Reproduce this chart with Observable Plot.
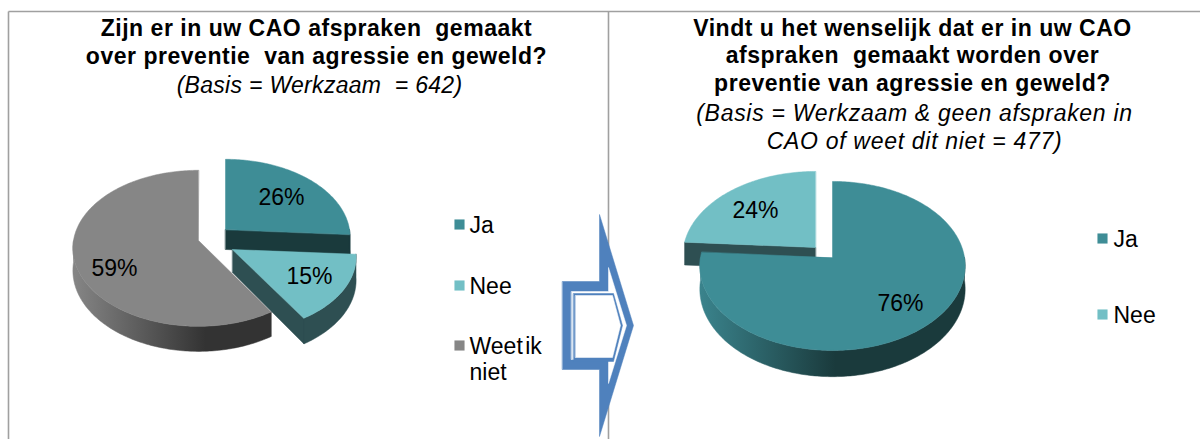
<!DOCTYPE html>
<html><head><meta charset="utf-8">
<script src="https://cdn.jsdelivr.net/npm/d3@7"></script>
<script src="https://cdn.jsdelivr.net/npm/@observablehq/plot@0.6"></script>
<style>html,body{margin:0;padding:0;background:#fff}svg{display:block}</style>
</head><body><div id="chart"></div>
<script>
const categoriesLeft = ["Ja", "Nee", "Weet ik niet"];
const valuesLeft = [26, 15, 59];
const categoriesRight = ["Ja", "Nee"];
const valuesRight = [76, 24];
const topColors = {"Ja": "#3e8d96", "Nee": "#72bfc5", "Weet ik niet": "#868686"};
const sideDark = {"Ja": "#1a3a3c", "Nee": "#2e4f52", "Weet ik niet": "#333333"};
const titleLeft = ["Zijn er in uw CAO afspraken  gemaakt", "over preventie  van agressie en geweld?"];
const noteLeft = ["(Basis = Werkzaam  = 642)"];
const titleRight = ["Vindt u het wenselijk dat er in uw CAO", "afspraken  gemaakt worden over", "preventie van agressie en geweld?"];
const noteRight = ["(Basis = Werkzaam & geen afspraken in", "CAO of weet dit niet = 477)"];

const W = 1200, H = 439, P = 0.1;
function proj(g, a, drop = 0) {
  const r = a * Math.PI / 180, u = Math.sin(r), v = -Math.cos(r), s = 1 + P * v;
  const d = drop ? drop * (1 + 0.14 * v) : 0;
  return [g.cx + g.rx * u * s, g.cy + g.ry * v * s + d];
}
const polys = [], labels = [];
let pid = 0;
function addPoly(pts, fill) { const id = pid++; for (const [x, y] of pts) polys.push({x, y, id, fill}); }

function drawSlice(g, name, value, start, labelPos) {
  const end = start + value * 3.6;
  const dark = sideDark[name], top = topColors[name], depth = g.depth;
  const wall = a => addPoly([[g.cx, g.cy], proj(g, a), proj(g, a, depth), [g.cx, g.cy + depth]], dark);
  if (end > 0 && end < 180) wall(end);
  if (start > 180 && start < 360) wall(start);
  const a0 = Math.max(start, 90), a1 = Math.min(end, 270);
  if (a1 > a0) {
    const n = Math.ceil(a1 - a0), front = [], back = [];
    for (let i = 0; i <= n; i++) {
      const b = a0 + (a1 - a0) * i / n;
      front.push(proj(g, b));
      back.push(proj(g, b, depth));
    }
    addPoly([...front, ...back.reverse()], g.gradient ? `url(#${g.gradient})` : dark);
  }
  const pts = [[g.cx, g.cy]];
  const n = Math.ceil(end - start);
  for (let i = 0; i <= n; i++) pts.push(proj(g, start + (end - start) * i / n));
  addPoly(pts, top);
  labels.push({x: labelPos[0], y: labelPos[1], text: value + "%"});
}

const geoL = {
  "Weet ik niet": {cx: 198, cy: 240, rx: 125, ry: 78, depth: 22, gradient: "gGray"},
  "Ja": {cx: 225, cy: 229, rx: 124, ry: 78, depth: 20},
  "Nee": {cx: 232, cy: 249, rx: 123, ry: 75, depth: 23}
};
const geoR = {
  "Nee": {cx: 815, cy: 247, rx: 132, ry: 84.5, depth: 23},
  "Ja": {cx: 832, cy: 257, rx: 132, ry: 84.5, depth: 23, gradient: "gTeal"}
};
drawSlice(geoL["Weet ik niet"], "Weet ik niet", valuesLeft[2], (valuesLeft[0] + valuesLeft[1]) * 3.6, [114, 268]);
drawSlice(geoL["Ja"], "Ja", valuesLeft[0], 0, [281, 197]);
drawSlice(geoL["Nee"], "Nee", valuesLeft[1], valuesLeft[0] * 3.6, [309, 276]);
drawSlice(geoR["Nee"], "Nee", valuesRight[1], valuesRight[0] * 3.6, [755, 210]);
drawSlice(geoR["Ja"], "Ja", valuesRight[0], 0, [900, 303]);

const boldRows = [], noteRowsL = [], noteRowsR = [];
titleLeft.forEach((t, i) => boldRows.push({t, x: 316, y: 28 + i * 28.5}));
noteLeft.forEach((t, i) => noteRowsL.push({t, x: 319, y: 85 + i * 28}));
titleRight.forEach((t, i) => boldRows.push({t, x: 912, y: 28 + i * 27.5}));
noteRight.forEach((t, i) => noteRowsR.push({t, x: 914, y: 113 + i * 28}));

const legend = [
  {n: "Ja", sx: 459, sy: 224, tx: 469, ty: 225, t: ["Ja"]},
  {n: "Nee", sx: 459, sy: 285, tx: 469, ty: 286, t: ["Nee"]},
  {n: "Weet ik niet", sx: 459, sy: 345, tx: 469, ty: 346, t: ["Weet ik", "niet"]},
  {n: "Ja", sx: 1102, sy: 238, tx: 1113, ty: 239, t: ["Ja"]},
  {n: "Nee", sx: 1102, sy: 314, tx: 1113, ty: 315, t: ["Nee"]}
];
const legendText = legend.flatMap(l => l.t.map((t, i) => ({t, x: l.tx, y: l.ty + i * 26})));

const frame = [[8, 439, 8, 11], [8, 11, 1200, 11], [608, 11, 608, 439]].map(([x1, y1, x2, y2]) => ({x1, y1, x2, y2}));
const ring = (pts, id, fill) => pts.map(([x, y]) => ({x, y, id, fill}));
const arrow = [
  ...ring([[562,281],[599,281],[599,214],[633,325],[599,436],[599,369],[562,369]], "a", "#4f81bd"),
  ...ring([[571,291],[608,291],[608,267],[626,325],[608,383],[608,359],[571,359]], "b", "#ffffff"),
  ...ring([[573,293],[613,293],[622,325],[613,361],[573,361]], "c", "#4f81bd"),
  ...ring([[575,295],[612,295],[620,325],[612,357],[575,357]], "d", "#ffffff")
];

function gradient(id, x1, x2, from, to) {
  const g = d3.create("svg:linearGradient").attr("id", id).attr("gradientUnits", "userSpaceOnUse")
    .attr("x1", x1).attr("x2", x2).attr("y1", 0).attr("y2", 0);
  g.append("stop").attr("offset", 0).attr("stop-color", from);
  g.append("stop").attr("offset", 1).attr("stop-color", to);
  return g.node();
}
const gradients = () => {
  const d = d3.create("svg:defs");
  d.append(() => gradient("gGray", 72, 205, "#868686", sideDark["Weet ik niet"]));
  d.append(() => gradient("gTeal", 700, 835, "#3a838c", sideDark["Ja"]));
  return d.node();
};

const spaced = (s, w = 0) => (index, scales, values, dims, ctx, next) => {
  const g = next(index, scales, values, dims, ctx);
  g.setAttribute("letter-spacing", s);
  g.setAttribute("word-spacing", w);
  return g;
};
const poly = data => Plot.line(data, {x: "x", y: "y", z: "id", fill: "fill", stroke: "fill", strokeWidth: 0.5, curve: "linear-closed"});
const txt = (data, o) => Plot.text(data, {fontFamily: "Liberation Sans, Arial, sans-serif", fill: "#000", fontSize: 23, ...o});

const plot = Plot.plot({
  width: W, height: H, margin: 0,
  x: {domain: [0, W], range: [0, W], axis: null},
  y: {domain: [0, H], range: [0, H], axis: null},
  color: {type: "identity"},
  style: {background: "#fff"},
  marks: [
    gradients,
    Plot.link(frame, {x1: "x1", y1: "y1", x2: "x2", y2: "y2", stroke: "#a0a0a0", strokeWidth: 1.6}),
    poly(polys),
    poly(arrow),
    txt(labels, {x: "x", y: "y", text: "text"}),
    txt(boldRows, {x: "x", y: "y", text: "t", fontWeight: "bold", render: spaced(0.52)}),
    txt(noteRowsL, {x: "x", y: "y", text: "t", fontStyle: "italic", render: spaced(0.3)}),
    txt(noteRowsR, {x: "x", y: "y", text: "t", fontStyle: "italic", render: spaced(0.7)}),
    Plot.dot(legend, {x: "sx", y: "sy", r: 5.7, symbol: "square", fill: d => topColors[d.n]}),
    txt(legendText, {x: "x", y: "y", text: "t", textAnchor: "start", render: spaced(0, -4)})
  ]
});
document.getElementById("chart").append(plot);
</script></body></html>
